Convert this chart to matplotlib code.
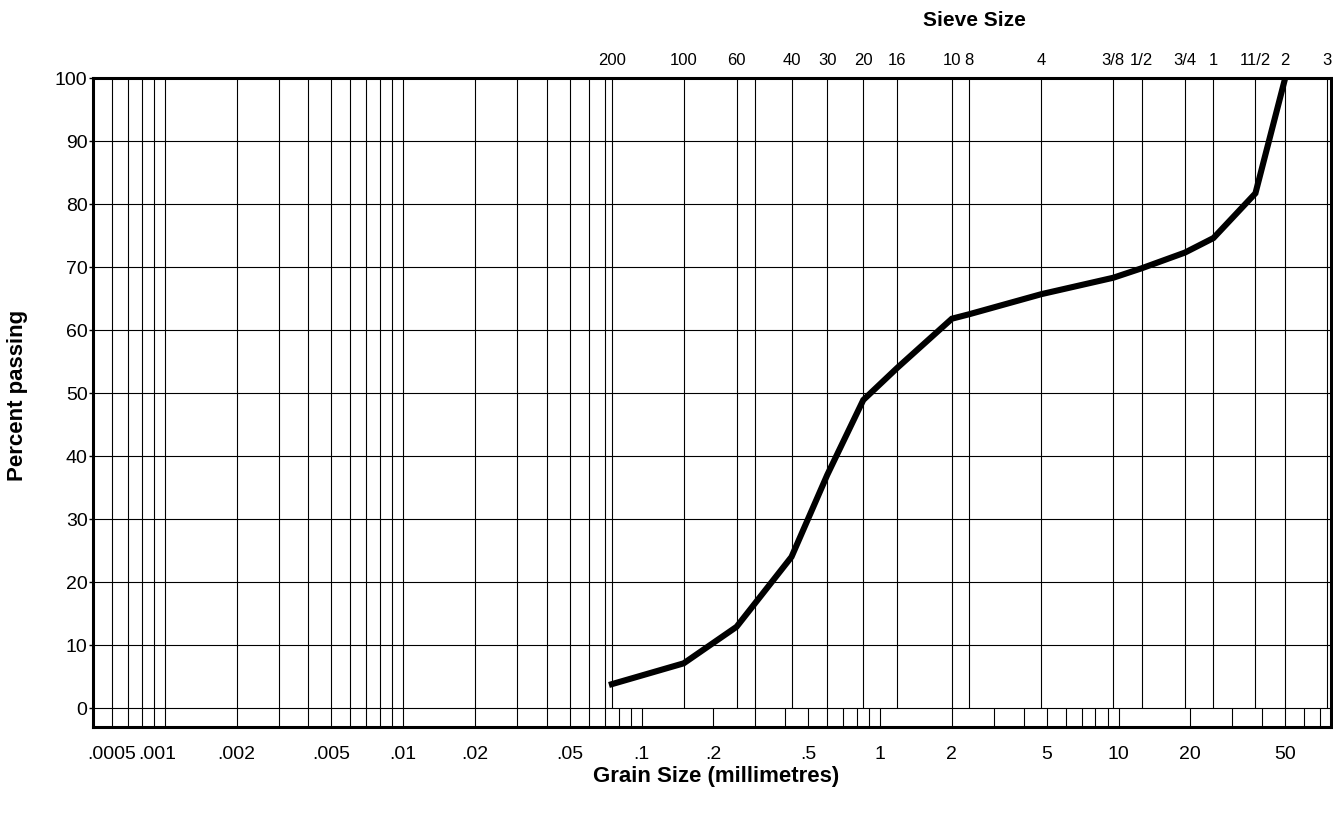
import numpy as np
import matplotlib
matplotlib.use('Agg')
import matplotlib.pyplot as plt
from matplotlib.transforms import ScaledTranslation

plt.rcParams['font.family'] = ['Liberation Sans', 'DejaVu Sans']

# grading curve
grain_mm = [0.075, 0.15, 0.25, 0.425, 0.6, 0.85, 1.18, 2.0, 2.36, 4.75, 9.5, 12.5, 19.0, 25.0, 37.5, 50.0]
pct_passing = [3.8, 7.1, 12.9, 24.0, 37.0, 48.9, 54.0, 61.8, 62.5, 65.7, 68.3, 69.8, 72.3, 74.6, 81.7, 100.0]

# top axis: sieve numbers / inch sizes
sieve_labels = ['200', '100', '60', '40', '30', '20', '16', '10', '8', '4',
                '3/8', '1/2', '3/4', '1', '11/2', '2', '3']
sieve_mm = [0.075, 0.15, 0.25, 0.425, 0.6, 0.85, 1.18, 2.0, 2.36, 4.75,
            9.5, 12.5, 19.0, 25.0, 37.5, 50.0, 75.0]

# bottom axis
grain_ticks = [0.0005, 0.001, 0.002, 0.005, 0.01, 0.02, 0.05, 0.1, 0.2, 0.5, 1, 2, 5, 10, 20, 50]
grain_labels = ['.0005', '.001', '.002', '.005', '.01', '.02', '.05', '.1', '.2', '.5',
                '1', '2', '5', '10', '20', '50']

pct_ticks = [0, 10, 20, 30, 40, 50, 60, 70, 80, 90, 100]

# vertical rulings printed on the form (besides the sieve lines)
fine_lines_mm = [0.0006, 0.0007, 0.0008, 0.0009, 0.001,
                 0.002, 0.003, 0.004, 0.005, 0.006, 0.007, 0.008, 0.009, 0.01,
                 0.02, 0.03, 0.04, 0.05, 0.06, 0.07, 0.3]

xmin, xmax = 0.0005, 77.8
ymin, ymax = -3.0, 100

fig = plt.figure(figsize=(13.33, 8.16), dpi=100)
ax = fig.add_axes([0.0698, 0.1091, 0.9287, 0.7953])
ax.set_xscale('log')
ax.set_xlim(xmin, xmax)
ax.set_ylim(ymin, ymax)

# grid
ax.hlines(pct_ticks[:-1], xmin, xmax, color='black', lw=0.8, zorder=1)
ax.vlines(fine_lines_mm + sieve_mm, 0, 100, color='black', lw=0.8, zorder=1)

# short log-cycle ticks in the strip below 0
cycle = np.outer(10.0 ** np.arange(-4, 2), np.arange(1, 10)).ravel()
cycle = cycle[(cycle > xmin) & (cycle < xmax)]
ax.vlines(cycle, ymin, 0, color='black', lw=0.8, zorder=1)

ax.plot(grain_mm, pct_passing, color='black', lw=4.4, solid_joinstyle='miter', zorder=3)

for side in ['left', 'right', 'top', 'bottom']:
    ax.spines[side].set_linewidth(2.2)
    ax.spines[side].set_color('black')

ax.set_xticks(grain_ticks)
ax.set_xticklabels(grain_labels)
ax.xaxis.set_minor_locator(matplotlib.ticker.NullLocator())
ax.tick_params(axis='x', length=0, pad=14, labelsize=14)
xlabels = ax.get_xticklabels()
# first two labels sit a little left on the printed form
xlabels[0].set_horizontalalignment('left')
xlabels[0].set_transform(xlabels[0].get_transform() + ScaledTranslation(-6 / 100, 0, fig.dpi_scale_trans))
xlabels[1].set_transform(xlabels[1].get_transform() + ScaledTranslation(-8 / 100, 0, fig.dpi_scale_trans))

ax.set_yticks(pct_ticks)
ax.tick_params(axis='y', length=3, width=1, pad=1, labelsize=14)

top = ax.twiny()
top.set_xscale('log')
top.set_xlim(xmin, xmax)
top.set_xticks(sieve_mm)
top.set_xticklabels(sieve_labels)
top.xaxis.set_minor_locator(matplotlib.ticker.NullLocator())
top.tick_params(axis='x', length=0, pad=7, labelsize=12)
for side in ['left', 'right', 'top', 'bottom']:
    top.spines[side].set_visible(False)

fig.text(0.731, 0.975, 'Sieve Size', ha='center', va='center', fontsize=15, fontweight='bold')
fig.text(0.537, 0.049, 'Grain Size (millimetres)', ha='center', va='center', fontsize=16, fontweight='bold')
fig.text(0.0135, 0.516, 'Percent passing', ha='center', va='center', rotation=90,
         fontsize=16, fontweight='bold')

fig.savefig('out.png', dpi=100, facecolor='white')
